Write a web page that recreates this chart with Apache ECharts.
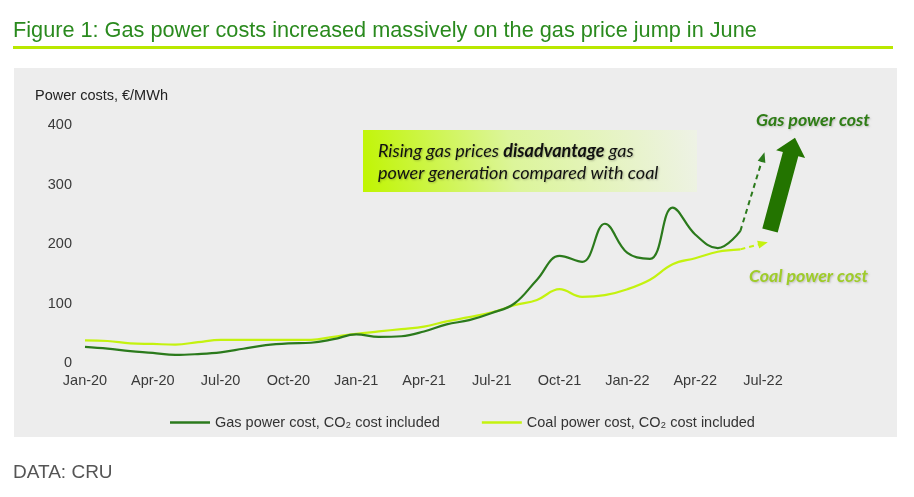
<!DOCTYPE html>
<html>
<head>
<meta charset="utf-8">
<script src="https://cdn.jsdelivr.net/npm/echarts@6/dist/echarts.min.js"></script>
<style>
html,body{margin:0;padding:0;background:#fff;}
#chart{width:914px;height:497px;}
</style>
</head>
<body>
<div id="chart"></div>
<script>
// ---- data ----
const categories = ['Jan-20','Feb-20','Mar-20','Apr-20','May-20','Jun-20','Jul-20','Aug-20','Sep-20','Oct-20','Nov-20','Dec-20',
  'Jan-21','Feb-21','Mar-21','Apr-21','May-21','Jun-21','Jul-21','Aug-21','Sep-21','Oct-21','Nov-21','Dec-21',
  'Jan-22','Feb-22','Mar-22','Apr-22','May-22','Jun-22','Jul-22'];
const gasCost = [27,24,20,17,13.5,15,18,24,30,33,34,40,48,44,45,53,65,72,84,100,140,180,170,234,185,175,261,216,193,222,null];
const coalCost = [38,37,33,32,31,35,39,39,39,39,39,44,49,53,57,61,70,77,85,97,106,124,111,114,124,140,166,176,187,191,null];
const outlookCats = ['Jun-22','Jul-22'];
const gasOutlook = [222, 346];
const coalOutlook = [191, 201];
const yTicks = [0,100,200,300,400];

const gasName = 'Gas power cost, CO\u2082 cost included';
const coalName = 'Coal power cost, CO\u2082 cost included';
const gasColor = '#2b7a1c';
const coalColor = '#c4f20f';
const font = '"Liberation Sans", Arial, sans-serif';

const chart = echarts.init(document.getElementById('chart'));
chart.setOption({
  animation: false,
  backgroundColor: '#ffffff',
  grid: {left: 85, right: 151, top: 125, bottom: 134, containLabel: false},
  xAxis: {
    type: 'category', data: categories, boundaryGap: false,
    axisLine: {show: false}, axisTick: {show: false},
    axisLabel: {interval: 2, color: '#3a3a3a', fontFamily: font, fontSize: 14.5, margin: 10}
  },
  yAxis: {
    type: 'value', min: yTicks[0], max: yTicks[yTicks.length-1], interval: 100,
    axisLine: {show: false}, axisTick: {show: false}, splitLine: {show: false},
    axisLabel: {color: '#3a3a3a', fontFamily: font, fontSize: 14.5, margin: 13}
  },
  legend: {
    left: 165, top: 410, icon: 'rect', itemWidth: 40, itemHeight: 2.5, itemGap: 42,
    textStyle: {fontFamily: font, fontSize: 14.5, color: '#333'},
    data: [gasName, coalName]
  },
  graphic: [
    {type: 'rect', z: -10, shape: {x: 14, y: 68, width: 883, height: 369}, style: {fill: '#ededed'}},
    {type: 'text', left: 13, top: 20, style: {text: 'Figure 1: Gas power costs increased massively on the gas price jump in June', font: '21.7px "Liberation Sans", Arial, sans-serif', fill: '#2a8a1e'}},
    {type: 'rect', shape: {x: 13, y: 46, width: 880, height: 3}, style: {fill: '#b9e800'}},
    {type: 'text', left: 35, top: 88, style: {text: 'Power costs, \u20ac/MWh', font: '14.5px "Liberation Sans", Arial, sans-serif', fill: '#222'}},
    {type: 'text', left: 13, top: 463, style: {text: 'DATA: CRU', font: '19px "Liberation Sans", Arial, sans-serif', fill: '#555'}},
    {type: 'rect', shape: {x: 363, y: 130, width: 334, height: 62},
      style: {fill: new echarts.graphic.LinearGradient(0, 1, 1, 0, [
        {offset: 0, color: '#c0f500'}, {offset: 0.45, color: '#dcf59a'}, {offset: 1, color: '#eef2e6'}])}},
    {type: 'text', left: 378, top: 142, style: {
      text: '{i|Rising gas prices }{b|disadvantage}{i| gas}\n{i|power generation compared with coal}',
      rich: {
        i: {font: 'italic 18px Lato, "Open Sans", sans-serif', fill: '#111', lineHeight: 22},
        b: {font: 'italic bold 18px Lato, "Open Sans", sans-serif', fill: '#111', lineHeight: 22}
      },
      textShadowColor: 'rgba(0,0,0,0.25)', textShadowBlur: 2, textShadowOffsetX: 1, textShadowOffsetY: 1}},
    {type: 'text', left: 756, top: 111, style: {text: 'Gas power cost', font: 'italic bold 17.8px Lato, "Open Sans", sans-serif', fill: '#2f7d16',
      textShadowColor: 'rgba(0,0,0,0.2)', textShadowBlur: 2, textShadowOffsetX: 1, textShadowOffsetY: 1}},
    {type: 'text', left: 749, top: 267, style: {text: 'Coal power cost', font: 'italic bold 17.8px Lato, "Open Sans", sans-serif', fill: '#9fcc2a',
      textShadowColor: 'rgba(0,0,0,0.2)', textShadowBlur: 2, textShadowOffsetX: 1, textShadowOffsetY: 1}},
    {type: 'polygon', shape: {points: [[762.3,228.4],[782.9,152],[776.1,150.2],[795,137.7],[805.1,158],[798.3,156.2],[777.7,232.6]]},
      style: {fill: '#237400'}}
  ],
  series: [
    {name: gasName, type: 'line', data: gasCost, smooth: 0.4, symbol: 'none', color: gasColor,
      lineStyle: {width: 2.2, color: gasColor}, z: 3,
      markLine: {silent: true, symbol: ['none', 'triangle'], symbolSize: [8, 10], label: {show: false},
        lineStyle: {color: gasColor, width: 2, type: [5, 4]},
        data: [[{coord: [outlookCats[0], gasOutlook[0]]}, {coord: [outlookCats[1], gasOutlook[1]]}]]}},
    {name: coalName, type: 'line', data: coalCost, smooth: 0.4, symbol: 'none', color: coalColor,
      lineStyle: {width: 2.2, color: coalColor}, z: 2,
      markLine: {silent: true, symbol: ['none', 'triangle'], symbolSize: [8, 10], label: {show: false},
        lineStyle: {color: coalColor, width: 2, type: [5, 4]},
        data: [[{coord: [outlookCats[0], coalOutlook[0]]}, {coord: [outlookCats[1], coalOutlook[1]]}]]}}
  ]
});
</script>
</body>
</html>
